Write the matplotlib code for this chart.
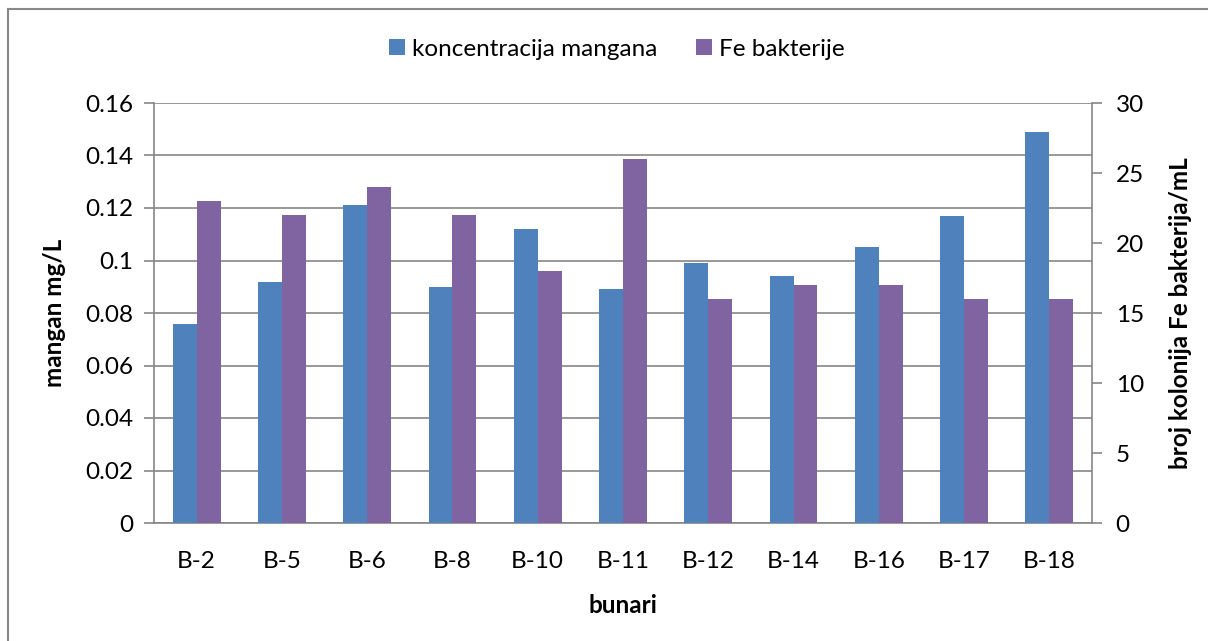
import matplotlib
matplotlib.use("Agg")
import matplotlib.pyplot as plt
import numpy as np
from matplotlib.lines import Line2D

plt.rcParams['font.family'] = ['Lato', 'DejaVu Sans']

wells = ["B-2", "B-5", "B-6", "B-8", "B-10", "B-11", "B-12", "B-14", "B-16", "B-17", "B-18"]
manganese = [0.076, 0.092, 0.121, 0.090, 0.112, 0.089, 0.099, 0.094, 0.105, 0.117, 0.149]
fe_bacteria = [23, 22, 24, 22, 18, 26, 16, 17, 17, 16, 16]

blue = "#4F81BD"
purple = "#8064A2"
grid_c = "#868686"
fs = 17.5

fig = plt.figure(figsize=(12.08, 6.41), dpi=100)
ax = fig.add_axes([154/1208, 1 - 523/641, (1092 - 154)/1208, (523 - 103)/641])
ax2 = ax.twinx()

x = np.arange(len(wells))
w = 0.28
ax.bar(x - w/2, manganese, width=w, color=blue, zorder=3, label="koncentracija mangana")
ax2.bar(x + w/2, fe_bacteria, width=w, color=purple, zorder=3, label="Fe bakterije")

ax.set_xlim(-0.5, len(wells) - 0.5)
ax.set_ylim(0, 0.16)
ax2.set_ylim(0, 30)
ax.set_yticks(np.arange(0, 0.161, 0.02))
ax.set_yticklabels(["0", "0.02", "0.04", "0.06", "0.08", "0.1", "0.12", "0.14", "0.16"])
ax2.set_yticks(range(0, 31, 5))
ax.set_xticks(x)
ax.set_xticklabels(wells)

ax.yaxis.grid(True, color=grid_c, linewidth=1.2, zorder=0)
ax.set_axisbelow(True)

for a in (ax, ax2):
    for s in a.spines.values():
        s.set_visible(False)
for a, side in ((ax, 'left'), (ax, 'bottom'), (ax2, 'right')):
    a.spines[side].set_visible(True)
    a.spines[side].set_color(grid_c)
    a.spines[side].set_linewidth(1.2)

ax.tick_params(axis='y', length=7, width=1.2, color=grid_c, labelsize=fs, pad=8)
ax.tick_params(axis='x', length=0, labelsize=fs, pad=20)
ax2.tick_params(axis='y', length=7, width=1.2, color=grid_c, labelsize=fs, pad=10)

ax.set_ylabel("mangan mg/L", fontsize=fs, fontweight='bold', labelpad=14)
ax2.set_ylabel("broj kolonija Fe bakterija/mL", fontsize=fs, fontweight='bold', labelpad=18)
ax.set_xlabel("bunari", fontsize=fs, fontweight='bold', labelpad=16)

h1, l1 = ax.get_legend_handles_labels()
h2, l2 = ax2.get_legend_handles_labels()
fig.legend(h1 + h2, l1 + l2, loc='center', bbox_to_anchor=(617/1208, 1 - 49/641), ncol=2,
           frameon=False, fontsize=fs, handlelength=0.65, handleheight=0.65,
           handletextpad=0.3, columnspacing=1.6)

# outer chart frame
fig.add_artist(Line2D([8/1208, 8/1208], [0, 1 - 9/641], color="#888888", lw=1.5, transform=fig.transFigure))
fig.add_artist(Line2D([8/1208, 1], [1 - 9/641, 1 - 9/641], color="#888888", lw=1.5, transform=fig.transFigure))

fig.savefig("out.png", dpi=100)
